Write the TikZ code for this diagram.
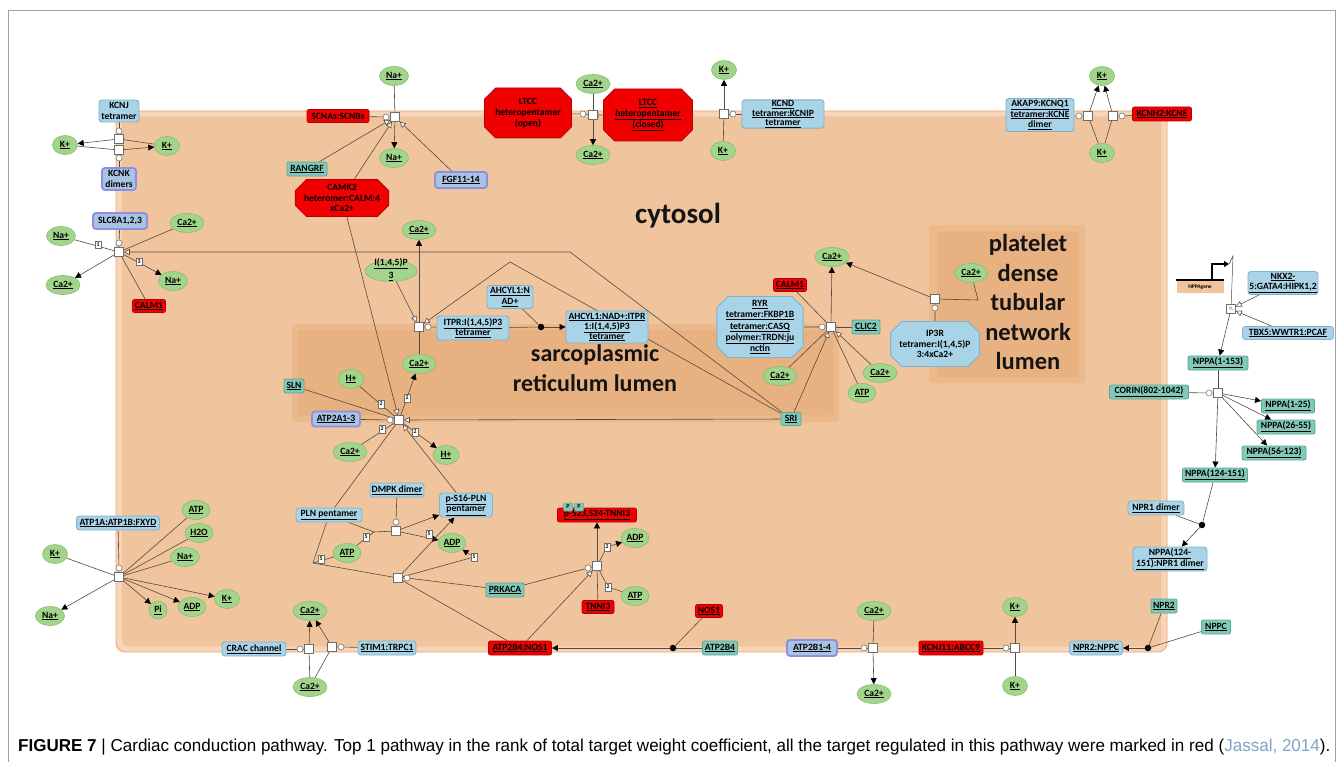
\documentclass[tikz,border=0pt]{standalone}
\usepackage{fontspec}
\setmainfont{Carlito}
\newfontfamily\capfont{Liberation Sans}
\usetikzlibrary{shapes.geometric,shapes.misc,arrows.meta,calc}
\pgfdeclarelayer{back}
\pgfdeclarelayer{edges}
\pgfsetlayers{back,edges,main}
\definecolor{cytof}{HTML}{F0C49C}
\definecolor{cytob}{HTML}{F8D5B8}
\definecolor{cytod}{HTML}{EBA572}
\definecolor{lumo}{HTML}{ECB98B}
\definecolor{lumi}{HTML}{E8B182}
\definecolor{smf}{HTML}{A2D48C}
\definecolor{smd}{HTML}{86BF72}
\definecolor{cxf}{HTML}{A9D3E6}
\definecolor{cxd}{HTML}{7FB3CC}
\definecolor{prf}{HTML}{82C8B8}
\definecolor{prd}{HTML}{5DA898}
\definecolor{stf}{HTML}{A8C4E2}
\definecolor{std}{HTML}{8F8FE0}
\definecolor{rdf}{HTML}{F00000}
\definecolor{rdd}{HTML}{B40000}
\definecolor{procd}{HTML}{6E6E6E}
\definecolor{edgec}{HTML}{574A3E}
\definecolor{genef}{HTML}{F2C49C}
\definecolor{capblue}{HTML}{7FA3CC}
\definecolor{framec}{HTML}{A0A0A0}
\newcommand{\ux}[1]{\underline{#1}}
\newcommand{\labf}{\fontsize{9.6}{10.8}\selectfont\bfseries}
\tikzset{
 lab/.style={font=\labf, text=black},
 wh/.style 2 args={minimum width=#1pt,minimum height=#2pt},
 sm/.style={ellipse, lab, fill=smf, draw=smd, line width=0.6pt, inner sep=0pt, minimum width=28pt, minimum height=19pt},
 cx/.style={rectangle, rounded corners=3pt, lab, fill=cxf, draw=cxd, line width=0.9pt, inner sep=0.8pt, align=center},
 prt/.style={rectangle, rounded corners=2pt, lab, fill=prf, draw=prd, line width=0.9pt, inner sep=0.8pt, align=center},
 sett/.style={rectangle, rounded corners=3pt, lab, fill=stf, draw=std, line width=1.8pt, inner sep=0.8pt, align=center},
 rdb/.style={rectangle, rounded corners=2pt, lab, fill=rdf, draw=rdd, line width=0.8pt, inner sep=0.8pt, align=center},
 roct/.style={chamfered rectangle, chamfered rectangle xsep=8pt, lab, fill=rdf, draw=rdd, line width=0.8pt, inner sep=0.8pt, align=center},
 boct/.style={chamfered rectangle, chamfered rectangle xsep=8pt, lab, fill=cxf, draw=cxd, line width=0.9pt, inner sep=0.8pt, align=center},
 proc/.style={rectangle, draw=procd, fill=white, line width=0.6pt, minimum size=9pt, inner sep=0pt},
 catc/.style={circle, draw=procd, fill=white, line width=0.5pt, minimum size=6pt, inner sep=0pt},
 stc/.style={rectangle, draw=procd, fill=white, line width=0.5pt, minimum width=6.5pt, minimum height=7.5pt, inner sep=0pt, font=\fontsize{5.8}{5.8}\selectfont\bfseries},
 bdot/.style={circle, fill=black, minimum size=6.5pt, inner sep=0pt},
 ln/.style={draw=edgec, line width=0.6pt},
 outa/.style={ln, -{Triangle[length=6pt,width=6pt,color=black]}},
 rega/.style={ln, -{Triangle[open,length=6pt,width=6pt,fill=white]}},
 inha/.style={ln, -{Bar[width=6pt]}},
 cmplab/.style={font=\fontsize{#1}{#1}\selectfont\bfseries, text=black!92, inner sep=0pt}
}
\begin{document}
\begin{tikzpicture}[x=1pt,y=-1pt]
\useasboundingbox (0,0) rectangle (1342,762);
% ---------- compartments ----------
\begin{pgfonlayer}{back}
\fill[white] (0,0) rectangle (1342,762);
\draw[framec, line width=0.6pt] (8,762) -- (8,10) -- (1335,10) -- (1335,762);
\draw[fill=cytob, draw=cytod, line width=0.8pt, rounded corners=9pt] (116,111) rectangle (1167,652);
\draw[fill=cytof, draw=cytod!70, line width=0.5pt, rounded corners=7pt] (122,117) rectangle (1161,646);
\fill[lumo, rounded corners=3pt] (292,324) rectangle (839,422);
\fill[lumi, rounded corners=2pt] (298,330) rectangle (833,415);
\fill[lumo, rounded corners=3pt] (929,225) rectangle (1085,383);
\fill[lumi, rounded corners=2pt] (937,232) rectangle (1078,377);
\end{pgfonlayer}
\node[cmplab=29] (tcyt) at (678,216) {cytosol};
\node[cmplab=24, align=center] (tsr) at (595,368) {sarcoplasmic\\[6pt]reticulum lumen};
\node[cmplab=24.5, align=center, font=\fontsize{24.5}{29.5}\selectfont\bfseries] (tpl) at (1028,302) {platelet\\dense\\tubular\\network\\lumen};
% ---------- KCNJ / KCNK ----------
\node[cx, wh={40}{22}] (kcnj) at (119,111) {KCNJ\\tetramer};
\node[catc] (kcnjc) at (119,131) {};
\node[proc] (kp1) at (119,139) {};
\node[proc] (kp2) at (119,150) {};
\node[catc] (kcnkc) at (119,158) {};
\node[sett, wh={34}{22}] (kcnk) at (119,179) {KCNK\\dimers};
\node[sm, minimum width=25pt] (kl) at (65,145) {\ux{K+}};
\node[sm, minimum width=25pt] (kr) at (167,146) {\ux{K+}};
% ---------- SLC8A ----------
\node[sett, wh={54}{16}] (slc) at (120,221) {SLC8A1,2,3};
\node[catc] (slcc) at (119,243) {};
\node[proc] (slcp) at (119,252) {};
\node[sm, minimum width=29pt] (na1) at (61,236) {\ux{Na+}};
\node[sm, minimum width=34pt] (ca1) at (187,223) {\ux{Ca2+}};
\node[sm, minimum width=34pt] (ca2) at (63,285) {\ux{Ca2+}};
\node[sm, minimum width=29pt] (na2) at (173,281) {\ux{Na+}};
\node[rdb, wh={33}{13}] (calm1a) at (149,306) {\ux{CALM1}};
\node[stc] (s1) at (98,245) {1};
\node[stc] (s3) at (139,262) {3};
% ---------- SCN ----------
\node[sm, minimum width=29pt] (nat) at (394,76) {\ux{Na+}};
\node[proc] (scnp) at (395,117) {};
\node[catc] (scnc) at (386,117) {};
\node[rdb, wh={62}{13}] (scn) at (338,116) {SCNAs:SCNBs};
\node[sm, minimum width=29pt] (nab) at (394,158) {\ux{Na+}};
\node[prt, wh={40}{14}] (rangrf) at (307,169) {\ux{RANGRF}};
\node[roct, wh={83}{37}] (camk2) at (342,198) {CAMK2\\heteromer:CALM:4\\xCa2+};
\node[sett, wh={52}{16}] (fgf) at (461,180) {\ux{FGF11-14}};
% ---------- LTCC ----------
\node[roct, wh={87}{50}] (ltcco) at (528,113) {LTCC\\heteropentamer\\(open)};
\node[roct, wh={89}{52}] (ltccc) at (648,115) {\ux{LTCC}\\\ux{heteropentamer}\\\ux{(closed)}};
\node[catc] (ltcat) at (583,114) {};
\node[proc] (ltp) at (593,115) {};
\node[sm, minimum width=34pt] (cat1) at (593,84) {\ux{Ca2+}};
\node[sm, minimum width=34pt] (cab1) at (593,155) {\ux{Ca2+}};
% ---------- KCND ----------
\node[sm, minimum width=25pt] (kt) at (724,70) {\ux{K+}};
\node[proc] (kcp) at (724,114) {};
\node[catc] (kcc) at (733,114) {};
\node[cx, wh={82}{25}, font=\fontsize{9.6}{9.2}\selectfont\bfseries] (kcnd) at (783,114) {\ux{KCND}\\\ux{tetramer:KCNIP}\\\ux{tetramer}};
\node[sm, minimum width=25pt] (kb) at (723,151) {\ux{K+}};
% ---------- KCNQ ----------
\node[sm, minimum width=25pt] (kq1) at (1102,76) {\ux{K+}};
\node[sm, minimum width=25pt] (kq2) at (1102,153) {\ux{K+}};
\node[proc] (qp1) at (1088,116) {};
\node[proc] (qp2) at (1113,116) {};
\node[catc] (qc1) at (1079,116) {};
\node[catc] (qc2) at (1122,116) {};
\node[cx, wh={68}{33}] (akap) at (1040,115) {\ux{AKAP9:KCNQ1}\\\ux{tetramer:KCNE}\\\ux{dimer}};
\node[rdb, wh={59}{14}] (kcnh2) at (1162,114) {\ux{KCNH2:KCNE}};
% ---------- ITPR ----------
\node[sm, minimum width=34pt] (cat2) at (419,230) {\ux{Ca2+}};
\node[sm, minimum width=52pt, minimum height=21pt] (ip3) at (391,271) {\makebox[32pt]{\raisebox{-7.5pt}[4pt][4pt]{\shortstack{\ux{I(1,4,5)P}\\\ux{3}}}}};
\node[proc] (itp) at (419,327) {};
\node[catc] (itc) at (428,327) {};
\node[cx, wh={72}{24}] (itpr) at (473,328) {\ux{ITPR:I(1,4,5)P3}\\\ux{tetramer}};
\node[sm, minimum width=34pt] (calum) at (419,364) {\ux{Ca2+}};
\node[cx, wh={46}{23}] (ahc) at (510,297) {\ux{AHCYL1:N}\\\ux{AD+}};
\node[bdot] (bd1) at (541,327) {};
\node[cx, wh={82}{32}, font=\fontsize{9.6}{10}\selectfont\bfseries] (ahcx) at (607,327) {\ux{AHCYL1:NAD+:ITPR}\\\ux{1:I(1,4,5)P3}\\\ux{tetramer}};
% ---------- ATP2A ----------
\node[proc] (ap) at (399,420) {};
\node[catc] (ac) at (390,420) {};
\node[sett, wh={48}{15}] (atp2a) at (336,419) {\ux{ATP2A1-3}};
\node[prt, wh={20}{14}] (sln) at (294,386) {\ux{SLN}};
\node[sm, minimum width=26pt] (hp1) at (351,379) {\ux{H+}};
\node[sm, minimum width=26pt] (hp2) at (446,455) {\ux{H+}};
\node[sm, minimum width=34pt] (cal2) at (350,452) {\ux{Ca2+}};
\node[stc] (sa1) at (381,404) {2};
\node[stc] (sa2) at (407,398) {2};
\node[stc] (sa3) at (382,429) {2};
\node[stc] (sa4) at (415,432) {2};
% ---------- PLN ----------
\node[cx, wh={54}{14}] (dmpk) at (397,490) {\ux{DMPK dimer}};
\node[cx, wh={53}{24}] (pspln) at (466,505) {\ux{p-S16-PLN}\\\ux{pentamer}};
\node[cx, wh={66}{14}] (pln) at (329,515) {\ux{PLN pentamer}};
\node[catc] (dmc) at (396,522) {};
\node[proc] (dmp) at (396,531) {};
\node[sm] (atpA) at (347,553) {\ux{ATP}};
\node[sm] (adpA) at (452,543) {\ux{ADP}};
\coordinate (vA) at (374,532);
\coordinate (vB) at (313,563);
\node[proc] (pkp) at (398,578) {};
\node[catc] (pkc) at (407,578) {};
\node[prt, wh={38}{14}] (prkaca) at (505,590) {\ux{PRKACA}};
\node[stc] (s5a) at (366,537) {5};
\node[stc] (s5b) at (429,534) {5};
\node[stc] (s5c) at (321,559) {5};
\node[stc] (s5d) at (474,557) {5};
% ---------- TNNI3 ----------
\node[rdb, wh={79}{14}] (ptn) at (597,515) {\ux{p-S23,S24-TNNI3}};
\node[prt, minimum width=9pt, minimum height=8pt, inner sep=0pt, font=\fontsize{6}{6}\selectfont\bfseries, line width=0.5pt, rounded corners=1pt] (pP1) at (568,507) {P};
\node[prt, minimum width=9pt, minimum height=8pt, inner sep=0pt, font=\fontsize{6}{6}\selectfont\bfseries, line width=0.5pt, rounded corners=1pt] (pP2) at (579,507) {P};
\node[proc] (tnp) at (597,566) {};
\node[catc] (tnc) at (588,568) {};
\node[rdb, wh={32}{13}] (tnni3) at (598,607) {\ux{TNNI3}};
\node[sm] (adpB) at (635,538) {\ux{ADP}};
\node[sm] (atpB) at (635,596) {\ux{ATP}};
\node[stc] (s2b) at (607,547) {2};
\node[stc] (s2c) at (608,587) {2};
% ---------- ATP1A ----------
\node[cx, wh={83}{14}] (atp1a) at (118,523) {\ux{ATP1A:ATP1B:FXYD}};
\node[catc] (a1c) at (119,568) {};
\node[proc] (a1p) at (119,577) {};
\node[sm] (atpC0) at (196,510) {\ux{ATP}};
\node[sm] (h2o) at (199,533) {\ux{H2O}};
\node[sm, minimum width=29pt] (na3) at (185,557) {\ux{Na+}};
\node[sm, minimum width=25pt] (kl2) at (55,554) {\ux{K+}};
\node[sm, minimum width=29pt] (na4) at (50,616) {\ux{Na+}};
\node[sm, minimum width=18pt, minimum height=18pt] (pi) at (158,610) {\ux{Pi}};
\node[sm] (adpC) at (192,607) {\ux{ADP}};
\node[sm, minimum width=25pt] (kr2) at (227,599) {\ux{K+}};
% ---------- CRAC ----------
\node[sm, minimum width=34pt] (cau) at (310,611) {\ux{Ca2+}};
\node[sm, minimum width=34pt] (cal3) at (310,687) {\ux{Ca2+}};
\node[proc] (cp1) at (309,649) {};
\node[proc] (cp2) at (332,647) {};
\node[catc] (cc1) at (300,649) {};
\node[catc] (cc2) at (341,647) {};
\node[cx, wh={64}{14}] (crac) at (254,649) {\ux{CRAC channel}};
\node[cx, wh={58}{14}] (stim) at (387,648) {\ux{STIM1:TRPC1}};
% ---------- bottom row ----------
\node[rdb, wh={63}{14}] (nos) at (520,648) {\ux{ATP2B4:NOS1}};
\node[bdot] (bd2) at (673,648) {};
\node[rdb, wh={27}{13}] (nos1) at (709,611) {\ux{NOS1}};
\node[prt, wh={35}{14}] (atp2b4) at (720,648) {\ux{ATP2B4}};
\node[sett, wh={50}{16}] (atp2b) at (812,648) {\ux{ATP2B1-4}};
\node[catc] (bc) at (864,648) {};
\node[proc] (bp) at (873,648) {};
\node[sm, minimum width=34pt] (cau2) at (874,611) {\ux{Ca2+}};
\node[sm, minimum width=34pt] (cab2) at (874,694) {\ux{Ca2+}};
\node[rdb, wh={64}{14}] (kcnj11) at (951,648) {\ux{KCNJ11:ABCC9}};
\node[catc] (kc2) at (1006,648) {};
\node[proc] (kp3) at (1015,648) {};
\node[sm, minimum width=25pt] (ku) at (1015,607) {\ux{K+}};
\node[sm, minimum width=25pt] (kd) at (1015,686) {\ux{K+}};
\node[cx, wh={53}{14}] (npr2nppc) at (1096,648) {\ux{NPR2:NPPC}};
\node[bdot] (bd3) at (1148,648) {};
\node[prt, wh={26}{14}] (npr2) at (1164,606) {\ux{NPR2}};
\node[prt, wh={29}{14}] (nppc) at (1216,627) {\ux{NPPC}};
% ---------- RYR / IP3R ----------
\node[sm, minimum width=34pt] (cat3) at (832,257) {\ux{Ca2+}};
\node[rdb, wh={33}{13}] (calm1b) at (790,285) {\ux{CALM1}};
\node[boct, wh={81}{61}, font=\fontsize{9.6}{11.2}\selectfont\bfseries] (ryr) at (760,327) {\ux{RYR}\\\ux{tetramer:FKBP1B}\\\ux{tetramer:CASQ}\\\ux{polymer:TRDN:ju}\\\ux{nctin}};
\node[catc] (rc) at (822,327) {};
\node[proc] (rp) at (831,327) {};
\node[prt, wh={28}{14}] (clic) at (866,327) {\ux{CLIC2}};
\node[sm, minimum width=34pt] (cal4) at (780,376) {\ux{Ca2+}};
\node[sm, minimum width=34pt] (car) at (880,373) {\ux{Ca2+}};
\node[sm] (atpD) at (862,393) {\ux{ATP}};
\node[prt, wh={20}{13}] (sri) at (791,419) {\ux{SRI}};
\node[boct, wh={82}{45}] (ip3r) at (935,344) {IP3R\\tetramer:I(1,4,5)P\\3:4xCa2+};
\node[catc] (ic) at (935,308) {};
\node[proc] (ipp) at (935,299) {};
\node[sm, minimum width=33pt] (capl) at (971,273) {\ux{Ca2+}};
\coordinate (plb) at (978,300);
\coordinate (b1) at (570,252);
\coordinate (b2) at (510,262);
% ---------- NPPA ----------
\node[rectangle, fill=genef, wh={47}{12}, inner sep=0pt, font=\fontsize{5.5}{6}\selectfont\bfseries] (gene) at (1200,287) {NPPAgene};
\node[proc, font=\fontsize{5}{5}\selectfont] (tp) at (1231,309) {\textbackslash\kern-0.3pt\textbackslash};
\node[cx, wh={70}{23}] (nkx) at (1283,283) {\ux{NKX2-}\\\ux{5:GATA4:HIPK1,2}};
\node[cx, wh={91}{13}] (tbx) at (1288,333) {\ux{TBX5:WWTR1:PCAF}};
\node[prt, wh={60}{14}] (nppa1) at (1218,363) {\ux{NPPA(1-153)}};
\node[prt, wh={79}{14}] (corin) at (1149,392) {\ux{CORIN(802-1042)}};
\node[catc] (crc) at (1209,393) {};
\node[proc] (crp) at (1218,393) {};
\node[prt, wh={53}{14}] (n125) at (1288,406) {\ux{NPPA(1-25)}};
\node[prt, wh={58}{14}] (n2655) at (1286,427) {\ux{NPPA(26-55)}};
\node[prt, wh={64}{14}] (n56) at (1274,453) {\ux{NPPA(56-123)}};
\node[prt, wh={65}{14}] (n124) at (1215,475) {\ux{NPPA(124-151)}};
\node[cx, wh={56}{14}] (npr1) at (1156,508) {\ux{NPR1 dimer}};
\node[bdot] (bd4) at (1202,525) {};
\node[cx, wh={74}{24}] (nprx) at (1170,559) {\ux{NPPA(124-}\\\ux{151):NPR1 dimer}};
\coordinate (gtip) at (1229,264);
\coordinate (gbend) at (1233,256);
% ---------- caption ----------
\node[anchor=base west, inner sep=0pt] (cap) at (18,751) {\resizebox{1312pt}{12.5pt}{\capfont\fontsize{14}{14}\selectfont\textbf{FIGURE 7} \textbar\ Cardiac conduction pathway. Top 1 pathway in the rank of total target weight coefficient, all the target regulated in this pathway were marked in red (\textcolor{capblue}{Jassal, 2014}).}};
% ---------- edges ----------
\begin{pgfonlayer}{edges}
% KCNJ/KCNK
\draw[ln] (kcnj) -- (kcnjc) -- (kp1);
\draw[ln] (kcnk) -- (kcnkc) -- (kp2);
\draw[outa] (kp1) -- (kl);
\draw[ln] (kp1) -- (kr);
\draw[outa] (kp2) -- (kr);
\draw[ln] (kp2) -- (kl);
% SLC8A
\draw[ln] (slc) -- (slcc) -- (slcp);
\draw[ln] (na1) -- (slcp);
\draw[ln] (ca1) -- (slcp);
\draw[outa] (slcp) -- (ca2);
\draw[outa] (slcp) -- (na2);
\draw[ln] (calm1a) -- (slcp);
\draw[rega] (sri) -- (b1) -- (slcp);
% SCN
\draw[ln] (nat) -- (scnp);
\draw[outa] (scnp) -- (nab);
\draw[ln] (scn) -- (scnc) -- (scnp);
\draw[rega] (rangrf) -- (scnp);
\draw[rega] (camk2) -- (scnp);
\draw[rega] (fgf) -- (scnp);
% LTCC
\draw[ln] (ltcco) -- (ltcat) -- (ltp);
\draw[inha] (ltccc) -- (ltp);
\draw[ln] (cat1) -- (ltp);
\draw[outa] (ltp) -- (cab1);
% KCND
\draw[ln] (kb) -- (kcp);
\draw[outa] (kcp) -- (kt);
\draw[ln] (kcnd) -- (kcc) -- (kcp);
% KCNQ
\draw[outa] (qp1) -- (kq1);
\draw[outa] (qp2) -- (kq1);
\draw[ln] (kq2) -- (qp1);
\draw[ln] (kq2) -- (qp2);
\draw[ln] (akap) -- (qc1) -- (qp1);
\draw[ln] (kcnh2) -- (qc2) -- (qp2);
% ITPR
\draw[ln] (calum) -- (itp);
\draw[outa] (itp) -- (cat2);
\draw[rega] (ip3) -- (itp);
\draw[ln] (itpr) -- (itc) -- (itp);
\draw[ln] (itpr) -- (bd1);
\draw[ln] (ahc) -- (bd1);
\draw[outa] (bd1) -- (ahcx);
\draw[rega] (sri) -- (b2) -- (itp);
% ATP2A
\draw[ln] (atp2a) -- (ac) -- (ap);
\draw[ln] (sln) -- (ap);
\draw[ln] (hp1) -- (ap);
\draw[outa] (ap) -- (calum);
\draw[ln] (cal2) -- (ap);
\draw[outa] (ap) -- (hp2);
\draw[rega] (camk2) -- (ap);
\draw[rega] (sri) -- (ap);
\draw[rega] (pspln) -- (ap);
\draw[ln] (pln) -- (ap);
% PLN
\draw[ln] (dmpk) -- (dmc) -- (dmp);
\draw[ln] (pln) -- (vA) -- (dmp);
\draw[ln] (atpA) -- (vA);
\draw[outa] (dmp) -- (pspln);
\draw[outa] (dmp) -- (adpA);
\draw[ln] (pln) -- (vB) -- (pkp);
\draw[ln] (atpA) -- (vB);
\draw[outa] (pkp) -- (pspln);
\draw[ln] (pkp) -- (s5d.center);
\draw[outa] (s5d) -- (adpA);
\draw[ln] (prkaca) -- (pkc) -- (pkp);
\draw[ln] (nos) -- (pkp);
% TNNI3
\draw[ln] (tnni3) -- (tnp);
\draw[outa] (tnp) -- (ptn);
\draw[ln] (tnp) -- (s2b.center);
\draw[outa] (s2b) -- (adpB);
\draw[ln] (atpB) -- (s2c.center) -- (tnp);
\draw[ln] (prkaca) -- (tnc) -- (tnp);
\draw[rega] (nos) -- (tnp);
% ATP1A
\draw[ln] (atp1a) -- (a1c) -- (a1p);
\draw[ln] (atpC0) -- (a1p);
\draw[ln] (h2o) -- (a1p);
\draw[ln] (na3) -- (a1p);
\draw[ln] (kl2) -- (a1p);
\draw[outa] (a1p) -- (na4);
\draw[outa] (a1p) -- (pi);
\draw[outa] (a1p) -- (adpC);
\draw[outa] (a1p) -- (kr2);
% CRAC
\draw[ln] (crac) -- (cc1) -- (cp1);
\draw[ln] (stim) -- (cc2) -- (cp2);
\draw[ln] (cal3) -- (cp1);
\draw[outa] (cp1) -- (cau);
\draw[ln] (cal3) -- (cp2);
\draw[outa] (cp2) -- (cau);
% bottom row
\draw[ln] (nos1) -- (bd2);
\draw[ln] (atp2b4) -- (bd2);
\draw[outa] (bd2) -- (nos);
\draw[ln] (atp2b) -- (bc) -- (bp);
\draw[ln] (cau2) -- (bp);
\draw[outa] (bp) -- (cab2);
\draw[ln] (kcnj11) -- (kc2) -- (kp3);
\draw[ln] (kd) -- (kp3);
\draw[outa] (kp3) -- (ku);
\draw[ln] (npr2) -- (bd3);
\draw[ln] (nppc) -- (bd3);
\draw[outa] (bd3) -- (npr2nppc);
% RYR / IP3R
\draw[ln] (ryr) -- (rc) -- (rp);
\draw[ln] (calm1b) -- (rp);
\draw[ln] (clic) -- (rp);
\draw[ln] (cal4) -- (rp);
\draw[outa] (rp) -- (cat3);
\draw[rega] (car) -- (rp);
\draw[ln] (atpD) -- (rp);
\draw[rega] (sri) -- (rp);
\draw[ln] (ip3r) -- (ic) -- (ipp);
\draw[ln] (capl) -- (plb) -- (ipp);
\draw[outa] (ipp) -- (cat3);
% NPPA
\draw[line width=1.6pt, black] ($(gene.north west)+(0,-1)$) -- ($(gene.north east)+(0,-1)$);
\draw[line width=1.3pt, black, -{Triangle[length=5pt,width=6pt]}] (1212,280) -- (1212,264) -- (gtip);
\draw[ln, line width=0.5pt] (gtip) -- (gbend) -- (tp);
\draw[rega] (nkx) -- (tp);
\draw[rega] (tbx) -- (tp);
\draw[outa] (tp) -- (nppa1);
\draw[ln] (nppa1) -- (crp);
\draw[ln] (corin) -- (crc) -- (crp);
\draw[outa] (crp) -- (n125);
\draw[outa] (crp) -- (n2655);
\draw[outa] (crp) -- (n56);
\draw[outa] (crp) -- (n124);
\draw[ln] (n124) -- (bd4);
\draw[ln] (npr1) -- (bd4);
\draw[outa] (bd4) -- (nprx);
\end{pgfonlayer}
\end{tikzpicture}
\end{document}
